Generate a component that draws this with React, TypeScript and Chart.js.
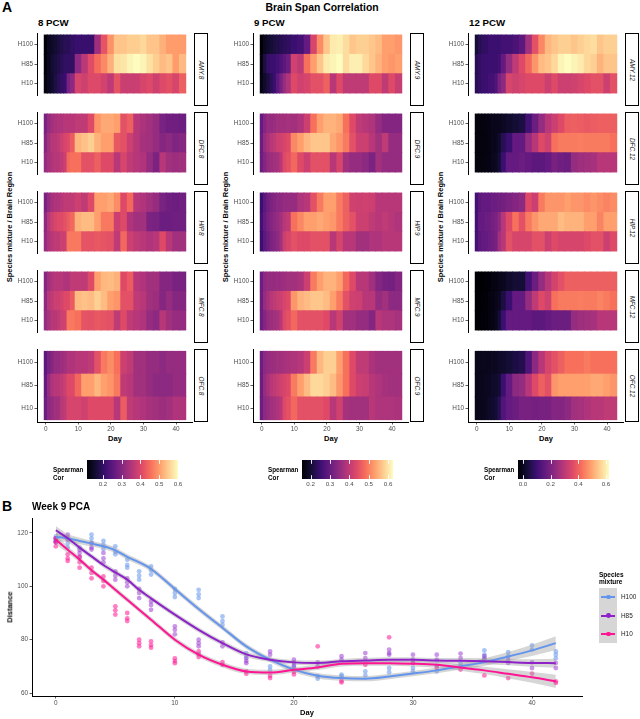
import React, { useEffect, useRef } from 'react';
import { Chart, registerables } from 'chart.js';

Chart.register(...registerables);

const FONT = '"Liberation Sans", Arial, Helvetica, sans-serif';
Chart.defaults.font.family = FONT;

// ---------- Heatmap data (Spearman correlation), rows: H100, H85, H10 ----------
const DAYS = [0, 1, 2, 3, 4, 5, 6, 7, 8, 10, 12, 14, 16, 18, 20, 22, 24, 26, 28, 30, 32, 34, 36, 38, 40, 42];
const MIXTURES = ['H100', 'H85', 'H10'];
const REGIONS = ['AMY', 'DFC', 'HIP', 'MFC', 'OFC'];
const PCW = ['8', '9', '12'];
const HEAT_X_TICKS = [0, 10, 20, 30, 40];

const AMY_8 = [
  [0.115, 0.14, 0.15, 0.16, 0.17, 0.18, 0.19, 0.19, 0.2, 0.21, 0.21, 0.21, 0.33, 0.42, 0.49, 0.54, 0.54, 0.55, 0.55, 0.56, 0.54, 0.54, 0.52, 0.5, 0.5, 0.5],
  [0.12, 0.14, 0.16, 0.17, 0.18, 0.19, 0.2, 0.2, 0.2, 0.31, 0.36, 0.41, 0.45, 0.48, 0.52, 0.57, 0.575, 0.59, 0.6, 0.59, 0.57, 0.55, 0.53, 0.54, 0.5, 0.53],
  [0.125, 0.14, 0.155, 0.175, 0.19, 0.2, 0.21, 0.285, 0.31, 0.395, 0.385, 0.405, 0.405, 0.39, 0.365, 0.42, 0.38, 0.38, 0.38, 0.395, 0.405, 0.385, 0.405, 0.415, 0.395, 0.435],
];
const DFC_8 = [
  [0.285, 0.32, 0.333, 0.343, 0.348, 0.348, 0.358, 0.358, 0.358, 0.367, 0.367, 0.406, 0.493, 0.513, 0.513, 0.503, 0.416, 0.435, 0.358, 0.343, 0.333, 0.32, 0.285, 0.275, 0.275, 0.27],
  [0.3, 0.333, 0.358, 0.358, 0.367, 0.382, 0.396, 0.406, 0.43, 0.527, 0.537, 0.552, 0.522, 0.503, 0.503, 0.425, 0.416, 0.382, 0.358, 0.338, 0.333, 0.32, 0.3, 0.309, 0.294, 0.3],
  [0.32, 0.338, 0.348, 0.358, 0.358, 0.367, 0.382, 0.445, 0.455, 0.455, 0.416, 0.416, 0.435, 0.406, 0.406, 0.358, 0.396, 0.367, 0.358, 0.348, 0.32, 0.29, 0.358, 0.333, 0.328, 0.333],
];
const HIP_8 = [
  [0.285, 0.32, 0.338, 0.348, 0.348, 0.358, 0.367, 0.367, 0.367, 0.382, 0.367, 0.406, 0.503, 0.503, 0.513, 0.484, 0.406, 0.445, 0.358, 0.348, 0.333, 0.32, 0.285, 0.275, 0.27, 0.275],
  [0.309, 0.358, 0.382, 0.396, 0.406, 0.406, 0.416, 0.43, 0.445, 0.522, 0.532, 0.532, 0.503, 0.464, 0.464, 0.382, 0.406, 0.348, 0.333, 0.333, 0.29, 0.285, 0.27, 0.27, 0.275, 0.275],
  [0.32, 0.348, 0.358, 0.367, 0.367, 0.382, 0.382, 0.464, 0.464, 0.464, 0.42, 0.42, 0.425, 0.42, 0.416, 0.367, 0.445, 0.382, 0.367, 0.358, 0.348, 0.358, 0.406, 0.358, 0.333, 0.333],
];
const MFC_8 = [
  [0.3, 0.333, 0.348, 0.358, 0.358, 0.358, 0.348, 0.348, 0.367, 0.367, 0.367, 0.406, 0.503, 0.527, 0.532, 0.522, 0.406, 0.43, 0.358, 0.348, 0.333, 0.333, 0.3, 0.3, 0.285, 0.285],
  [0.309, 0.358, 0.367, 0.382, 0.382, 0.391, 0.406, 0.406, 0.43, 0.532, 0.537, 0.532, 0.552, 0.532, 0.503, 0.493, 0.416, 0.416, 0.367, 0.358, 0.333, 0.328, 0.3, 0.32, 0.3, 0.3],
  [0.32, 0.338, 0.358, 0.358, 0.367, 0.382, 0.387, 0.464, 0.464, 0.455, 0.42, 0.416, 0.425, 0.42, 0.416, 0.367, 0.406, 0.367, 0.358, 0.348, 0.32, 0.309, 0.358, 0.333, 0.32, 0.32],
];
const OFC_8 = [
  [0.251, 0.285, 0.3, 0.32, 0.32, 0.328, 0.333, 0.348, 0.348, 0.358, 0.358, 0.367, 0.416, 0.464, 0.484, 0.455, 0.382, 0.367, 0.333, 0.333, 0.32, 0.32, 0.309, 0.32, 0.32, 0.32],
  [0.26, 0.32, 0.348, 0.358, 0.358, 0.367, 0.382, 0.406, 0.406, 0.445, 0.503, 0.503, 0.527, 0.503, 0.493, 0.464, 0.367, 0.358, 0.333, 0.333, 0.32, 0.309, 0.309, 0.309, 0.32, 0.32],
  [0.27, 0.309, 0.32, 0.333, 0.333, 0.358, 0.367, 0.396, 0.396, 0.396, 0.387, 0.406, 0.406, 0.406, 0.406, 0.358, 0.43, 0.367, 0.358, 0.348, 0.338, 0.333, 0.328, 0.333, 0.348, 0.348],
];

const AMY_9 = [
  [0.156, 0.18, 0.194, 0.203, 0.212, 0.217, 0.226, 0.231, 0.236, 0.25, 0.259, 0.297, 0.428, 0.512, 0.569, 0.606, 0.611, 0.592, 0.569, 0.578, 0.578, 0.569, 0.559, 0.531, 0.531, 0.522],
  [0.165, 0.212, 0.24, 0.25, 0.25, 0.259, 0.273, 0.287, 0.306, 0.419, 0.4, 0.484, 0.531, 0.569, 0.606, 0.616, 0.625, 0.592, 0.611, 0.611, 0.588, 0.569, 0.55, 0.531, 0.522, 0.531],
  [0.17, 0.194, 0.212, 0.231, 0.25, 0.287, 0.32, 0.353, 0.381, 0.437, 0.419, 0.428, 0.447, 0.447, 0.466, 0.39, 0.437, 0.4, 0.4, 0.4, 0.4, 0.437, 0.437, 0.4, 0.437, 0.409],
];
const DFC_9 = [
  [0.297, 0.334, 0.353, 0.353, 0.358, 0.367, 0.367, 0.367, 0.372, 0.367, 0.381, 0.414, 0.484, 0.531, 0.55, 0.55, 0.541, 0.484, 0.437, 0.4, 0.39, 0.381, 0.353, 0.334, 0.334, 0.334],
  [0.306, 0.353, 0.372, 0.39, 0.4, 0.414, 0.419, 0.428, 0.437, 0.508, 0.531, 0.555, 0.569, 0.569, 0.569, 0.541, 0.522, 0.494, 0.447, 0.414, 0.414, 0.39, 0.367, 0.4, 0.353, 0.353],
  [0.306, 0.334, 0.353, 0.362, 0.367, 0.372, 0.39, 0.437, 0.447, 0.475, 0.437, 0.414, 0.447, 0.447, 0.447, 0.39, 0.428, 0.367, 0.353, 0.353, 0.344, 0.325, 0.367, 0.353, 0.353, 0.353],
];
const HIP_9 = [
  [0.25, 0.287, 0.311, 0.325, 0.334, 0.344, 0.344, 0.353, 0.353, 0.353, 0.381, 0.39, 0.447, 0.494, 0.531, 0.531, 0.494, 0.466, 0.419, 0.414, 0.419, 0.414, 0.39, 0.39, 0.39, 0.39],
  [0.259, 0.297, 0.32, 0.334, 0.344, 0.353, 0.367, 0.39, 0.4, 0.484, 0.508, 0.531, 0.531, 0.541, 0.531, 0.522, 0.494, 0.466, 0.447, 0.414, 0.414, 0.4, 0.39, 0.4, 0.39, 0.381],
  [0.25, 0.287, 0.306, 0.325, 0.334, 0.344, 0.367, 0.414, 0.428, 0.447, 0.437, 0.437, 0.447, 0.447, 0.447, 0.39, 0.428, 0.39, 0.39, 0.367, 0.367, 0.381, 0.381, 0.39, 0.39, 0.39],
];
const MFC_9 = [
  [0.306, 0.344, 0.353, 0.353, 0.353, 0.358, 0.358, 0.362, 0.367, 0.367, 0.376, 0.414, 0.494, 0.531, 0.55, 0.55, 0.531, 0.475, 0.437, 0.39, 0.39, 0.367, 0.334, 0.32, 0.315, 0.334],
  [0.306, 0.353, 0.372, 0.39, 0.4, 0.409, 0.414, 0.428, 0.437, 0.522, 0.55, 0.559, 0.569, 0.569, 0.559, 0.531, 0.494, 0.447, 0.419, 0.414, 0.39, 0.39, 0.353, 0.367, 0.344, 0.344],
  [0.306, 0.334, 0.353, 0.362, 0.367, 0.372, 0.39, 0.437, 0.447, 0.475, 0.447, 0.447, 0.447, 0.447, 0.437, 0.39, 0.419, 0.367, 0.367, 0.353, 0.353, 0.334, 0.39, 0.381, 0.381, 0.372],
];
const OFC_9 = [
  [0.306, 0.344, 0.353, 0.358, 0.362, 0.367, 0.367, 0.372, 0.376, 0.381, 0.39, 0.414, 0.494, 0.555, 0.578, 0.578, 0.531, 0.484, 0.437, 0.4, 0.4, 0.376, 0.367, 0.367, 0.367, 0.367],
  [0.306, 0.353, 0.372, 0.39, 0.4, 0.409, 0.419, 0.428, 0.437, 0.494, 0.531, 0.559, 0.588, 0.588, 0.578, 0.559, 0.522, 0.484, 0.437, 0.414, 0.409, 0.39, 0.381, 0.372, 0.367, 0.367],
  [0.306, 0.344, 0.353, 0.367, 0.372, 0.381, 0.39, 0.437, 0.447, 0.475, 0.447, 0.447, 0.447, 0.447, 0.437, 0.39, 0.419, 0.372, 0.367, 0.367, 0.367, 0.39, 0.381, 0.381, 0.381, 0.376],
];

const AMY_12 = [
  [0.03, 0.063, 0.076, 0.082, 0.096, 0.096, 0.096, 0.096, 0.109, 0.109, 0.122, 0.148, 0.26, 0.372, 0.458, 0.523, 0.543, 0.556, 0.556, 0.543, 0.556, 0.569, 0.576, 0.543, 0.556, 0.556],
  [0.063, 0.082, 0.096, 0.096, 0.096, 0.096, 0.096, 0.109, 0.161, 0.24, 0.306, 0.359, 0.411, 0.477, 0.53, 0.543, 0.569, 0.609, 0.622, 0.609, 0.596, 0.569, 0.556, 0.517, 0.543, 0.543],
  [0.063, 0.082, 0.096, 0.096, 0.109, 0.109, 0.129, 0.194, 0.227, 0.346, 0.332, 0.346, 0.359, 0.359, 0.359, 0.326, 0.359, 0.326, 0.326, 0.332, 0.346, 0.359, 0.372, 0.372, 0.326, 0.372],
];
const DFC_12 = [
  [-0.023, -0.023, -0.023, -0.016, -0.016, -0.01, -0.003, -0.003, 0.003, 0.017, 0.03, 0.043, 0.109, 0.175, 0.24, 0.293, 0.326, 0.359, 0.392, 0.398, 0.392, 0.385, 0.392, 0.398, 0.398, 0.398],
  [-0.023, -0.023, -0.023, -0.023, -0.016, -0.01, -0.003, 0.017, 0.063, 0.096, 0.161, 0.161, 0.24, 0.293, 0.359, 0.332, 0.425, 0.438, 0.438, 0.438, 0.444, 0.438, 0.438, 0.438, 0.438, 0.425],
  [-0.023, -0.023, -0.023, -0.016, -0.016, -0.003, 0.003, 0.03, 0.096, 0.161, 0.161, 0.175, 0.161, 0.148, 0.148, 0.161, 0.194, 0.181, 0.175, 0.24, 0.254, 0.26, 0.267, 0.293, 0.293, 0.293],
];
const HIP_12 = [
  [0.109, 0.148, 0.161, 0.161, 0.161, 0.175, 0.175, 0.181, 0.188, 0.201, 0.214, 0.227, 0.359, 0.326, 0.438, 0.477, 0.477, 0.477, 0.49, 0.477, 0.477, 0.464, 0.477, 0.464, 0.451, 0.464],
  [0.109, 0.161, 0.161, 0.175, 0.175, 0.188, 0.201, 0.227, 0.293, 0.359, 0.425, 0.372, 0.438, 0.477, 0.504, 0.504, 0.504, 0.53, 0.517, 0.517, 0.517, 0.49, 0.49, 0.451, 0.49, 0.49],
  [0.109, 0.148, 0.161, 0.161, 0.175, 0.181, 0.194, 0.26, 0.293, 0.372, 0.346, 0.346, 0.346, 0.372, 0.372, 0.326, 0.359, 0.346, 0.346, 0.346, 0.346, 0.359, 0.372, 0.372, 0.326, 0.359],
];
const MFC_12 = [
  [-0.036, -0.036, -0.036, -0.03, -0.03, -0.023, -0.016, -0.01, -0.003, 0.017, 0.03, 0.03, 0.109, 0.175, 0.24, 0.293, 0.339, 0.372, 0.398, 0.398, 0.398, 0.398, 0.398, 0.398, 0.398, 0.398],
  [-0.036, -0.036, -0.03, -0.03, -0.023, -0.016, -0.01, 0.003, 0.043, 0.096, 0.161, 0.161, 0.24, 0.306, 0.359, 0.332, 0.425, 0.438, 0.438, 0.438, 0.444, 0.438, 0.438, 0.451, 0.438, 0.425],
  [-0.036, -0.036, -0.03, -0.03, -0.023, -0.016, -0.003, 0.03, 0.096, 0.161, 0.161, 0.161, 0.161, 0.148, 0.148, 0.161, 0.175, 0.175, 0.175, 0.24, 0.254, 0.26, 0.267, 0.293, 0.293, 0.293],
];
const OFC_12 = [
  [-0.01, -0.01, -0.003, -0.003, -0.003, 0.003, 0.003, 0.01, 0.017, 0.03, 0.043, 0.056, 0.129, 0.227, 0.293, 0.346, 0.372, 0.398, 0.425, 0.425, 0.425, 0.438, 0.425, 0.425, 0.425, 0.425],
  [-0.01, -0.003, -0.003, 0.003, 0.003, 0.01, 0.017, 0.03, 0.096, 0.161, 0.227, 0.24, 0.293, 0.359, 0.398, 0.372, 0.477, 0.49, 0.49, 0.49, 0.49, 0.49, 0.504, 0.504, 0.49, 0.477],
  [-0.01, -0.003, -0.003, 0.003, 0.01, 0.017, 0.03, 0.063, 0.129, 0.161, 0.175, 0.194, 0.194, 0.188, 0.194, 0.194, 0.214, 0.214, 0.227, 0.26, 0.267, 0.28, 0.293, 0.293, 0.306, 0.306],
];

const FACETS = [
  [AMY_8, DFC_8, HIP_8, MFC_8, OFC_8],
  [AMY_9, DFC_9, HIP_9, MFC_9, OFC_9],
  [AMY_12, DFC_12, HIP_12, MFC_12, OFC_12],
];
const CB_TICKS = [
  [0.2, 0.3, 0.4, 0.5, 0.6],
  [0.2, 0.3, 0.4, 0.5, 0.6],
  [0.0, 0.2, 0.4, 0.6],
];

// ---------- PCA data ----------
const PCA_X_TICKS = [0, 10, 20, 30, 40];
const PCA_Y_TICKS = [60, 80, 100, 120];
const H100_POINTS = [[0,118.7],[0,117.7],[0,117],[1,116],[1,114.5],[2,114.5],[3,119.4],[3,118],[3,116.5],[4,117],[4,115.5],[4,114],[5,115],[5,113],[5,112],[6,110],[6,108],[6,107],[7,105.6],[7,104],[7,102.5],[8,107.5],[8,106],[8,104.4],[10,99],[10,97.5],[10,96],[12,98.7],[12,97],[12,95.6],[14,88.7],[14,87],[14,85.6],[16,75],[16,73.7],[18,70],[18,68.7],[20,70.5],[20,69],[22,66.3],[22,65.4],[24,66.9],[24,66.3],[26,68.1],[26,66.6],[28,69.4],[28,67.8],[30,71.3],[30,69.4],[30,68.1],[32,70.3],[32,68.1],[34,71.3],[34,70],[36,76],[36,74.4],[36,73],[38,75.3],[38,73.8],[40,77.9],[40,76.3],[42,75.6],[42,74.4],[42,73]];
const H85_POINTS = [[0,118],[0,117],[0,116.5],[1,119.4],[1,118.2],[1,117.5],[2,113.7],[2,112.5],[2,111],[3,116],[3,114.5],[3,113.8],[4,112.5],[4,110.5],[4,109],[5,105.6],[5,104],[5,102.5],[6,103],[6,101.5],[6,100],[7,99],[7,97.5],[7,95.6],[8,94.4],[8,93],[8,91.2],[10,85],[10,83.7],[10,82],[12,80],[12,78.7],[12,77.5],[14,79],[14,77.5],[16,73],[16,72],[16,71.2],[18,75.6],[18,74.4],[20,72.5],[20,71.5],[20,70],[22,71.5],[22,70],[24,73.8],[24,72.5],[26,75],[26,73.1],[28,76.3],[28,75],[28,74.4],[30,74.4],[30,72.5],[32,74.4],[32,72.5],[34,74.8],[34,73.1],[36,73.8],[36,72.5],[38,72.5],[38,71.3],[40,71.5],[40,69.4],[42,71.3],[42,69.4]];
const H10_POINTS = [[0,118],[0,116.5],[0,115],[1,112],[1,110.5],[1,109.5],[2,111],[2,109],[2,107],[3,107],[3,105],[3,103],[4,103.7],[4,102],[4,100],[5,92.5],[5,91],[5,89.4],[6,90],[6,88],[6,87],[7,80],[7,78.7],[7,77.5],[8,79.4],[8,78],[8,77],[10,73],[10,72],[10,71.2],[12,75.6],[12,74.5],[12,73.5],[14,71.6],[14,70.6],[16,68.1],[16,67.2],[18,66.5],[18,65.6],[20,68],[20,67],[22,77.5],[24,64.6],[24,64],[26,70.6],[28,80.9],[30,71.3],[32,69.4],[34,68.8],[36,66.6],[38,65.6],[40,67.3],[42,64.4],[42,63.8]];

const FIT_DAYS = DAYS;
const H100_FIT = [118.5,118,117,116,115,113.5,111,109,106.5,99,91.5,84.5,77.5,72.5,68.8,66.5,65.6,65.4,66.2,67.3,68.5,70,71.6,73.7,76,78.7];
const H85_FIT = [121,118,114.5,111.2,108,105.2,102.5,98.7,95.5,89.4,83.7,78.7,74.5,72.5,71.5,71.3,71.9,72.2,72.5,72.5,72.2,72.1,71.9,71.6,71.3,71.2];
const H10_FIT = [117.5,113.7,110,106,102.5,98.7,95,91.2,87.5,80,74.4,70.6,68.1,67.7,68.7,69.6,71,71.2,71.2,71,70.6,69.6,68.5,67.2,65.9,64.4];
const H100_SE = [1.6,1.4,1.2,1.1,1.0,1.0,1.0,1.0,1.0,1.0,1.0,1.0,1.0,1.0,1.0,1.0,1.0,1.0,1.0,1.0,1.1,1.2,1.4,1.7,2.1,2.6];
const H85_SE = [1.6,1.3,1.1,1.0,1.0,1.0,1.0,1.0,1.0,1.0,1.0,1.0,1.0,0.9,0.9,0.9,0.9,0.9,0.9,0.9,0.9,1.0,1.1,1.2,1.4,1.7];
const H10_SE = [1.6,1.3,1.1,1.0,1.0,1.0,1.0,1.0,1.0,1.0,1.0,1.0,1.0,1.0,1.0,1.0,1.0,1.0,1.0,1.0,1.1,1.2,1.4,1.7,2.0,2.5];

// ---------- styling ----------
const MAGMA = ['#000004', '#140E36', '#3B0F70', '#641A80', '#8C2981', '#B73779', '#DE4968', '#F7705C', '#FE9F6D', '#FECF92', '#FCFDBF'];
const LABEL_COLOR = '#4D4D4D';
const TICK_COLOR = '#333333';
const COL_H100 = '#6495ED';
const COL_H85 = '#8E22C8';
const COL_H10 = '#FF1493';

const PANEL_LEFT = [37, 253, 468];
const PANEL_W = 156;
const FACET_TOP = [33, 112, 191, 270, 349];
const FACET_H = 73;
const Y_AXIS_W = 30;
const CB_LEFT = [87, 302, 518];

function hexToRgb(h: string) {
  return [parseInt(h.slice(1, 3), 16), parseInt(h.slice(3, 5), 16), parseInt(h.slice(5, 7), 16)];
}
const MAGMA_RGB = MAGMA.map(hexToRgb);
function magma(t: number) {
  const tt = Math.max(0, Math.min(1, t)) * (MAGMA.length - 1);
  const i = Math.min(MAGMA.length - 2, Math.floor(tt));
  const f = tt - i;
  const a = MAGMA_RGB[i], b = MAGMA_RGB[i + 1];
  const c = a.map((v, k) => Math.round(v + (b[k] - v) * f));
  return `rgb(${c[0]},${c[1]},${c[2]})`;
}

const TILE_EDGES = DAYS.map((d, i) => (i === 0 ? d - 0.5 : (DAYS[i - 1] + d) / 2)).concat([DAYS[DAYS.length - 1] + 1]);

function panelDomain(p: number): [number, number] {
  const all = FACETS[p].flat(2) as number[];
  return [Math.min(...all), Math.max(...all)];
}

const tickFont = { family: FONT, size: 6.4 };

function heatConfig(rows: number[][], domain: [number, number], showX: boolean) {
  const pts: any[] = [];
  const cols: string[] = [];
  rows.forEach((row, r) => {
    row.forEach((v, i) => {
      if (i >= DAYS.length) return;
      pts.push({ x: [TILE_EDGES[i], TILE_EDGES[i + 1]], y: MIXTURES.length - r });
      cols.push(magma((v - domain[0]) / (domain[1] - domain[0])));
    });
  });
  return {
    type: 'bar',
    data: {
      datasets: [{
        data: pts, backgroundColor: cols, borderWidth: 0, grouped: false,
        barPercentage: 1, categoryPercentage: 1, inflateAmount: 0.4,
      }],
    },
    options: {
      indexAxis: 'y', responsive: false, animation: false, events: [],
      layout: { padding: 0 },
      plugins: { legend: { display: false }, tooltip: { enabled: false } },
      scales: {
        x: {
          type: 'linear', min: -2.7, max: 45.2, display: showX, offset: false,
          afterBuildTicks: (s: any) => { s.ticks = HEAT_X_TICKS.map((v) => ({ value: v })); },
          afterFit: (s: any) => { s.height = 11; s.paddingLeft = 0; s.paddingRight = 0; },
          ticks: { font: tickFont, color: LABEL_COLOR, padding: 1, maxRotation: 0, autoSkip: false, callback: (v: any) => String(v) },
          grid: { display: true, drawOnChartArea: false, drawTicks: true, tickLength: 2.5, tickColor: TICK_COLOR, tickWidth: 0.8, offset: false },
          border: { display: true, color: '#000', width: 1 },
        },
        y: {
          type: 'linear', min: 0.4, max: 3.6, offset: false,
          afterBuildTicks: (s: any) => { s.ticks = [1, 2, 3].map((v) => ({ value: v })); },
          afterFit: (s: any) => { s.width = Y_AXIS_W; s.paddingTop = 0; s.paddingBottom = 0; },
          ticks: { font: tickFont, color: LABEL_COLOR, padding: 1.5, autoSkip: false, callback: (v: any) => MIXTURES[MIXTURES.length - v] },
          grid: { display: true, drawOnChartArea: false, drawTicks: true, tickLength: 2.5, tickColor: TICK_COLOR, tickWidth: 0.8, offset: false },
          border: { display: true, color: '#000', width: 1 },
        },
      },
    },
  };
}

const cbTickPlugin = {
  id: 'cbTicks',
  afterDatasetsDraw(chart: any) {
    const { ctx, chartArea: a, scales } = chart;
    const x = scales.x;
    ctx.save();
    ctx.strokeStyle = '#ffffff';
    ctx.lineWidth = 0.9;
    x.ticks.forEach((t: any) => {
      const px = Math.round(x.getPixelForValue(t.value)) + 0.5;
      ctx.beginPath();
      ctx.moveTo(px, a.top); ctx.lineTo(px, a.top + 3.8);
      ctx.moveTo(px, a.bottom - 3.8); ctx.lineTo(px, a.bottom);
      ctx.stroke();
    });
    ctx.restore();
  },
};

function colorbarConfig(domain: [number, number], ticks: number[]) {
  return {
    type: 'bar',
    data: {
      datasets: [{
        data: [{ x: [domain[0], domain[1]], y: 0 }],
        backgroundColor: (c: any) => {
          const chart = c.chart;
          if (!chart.chartArea) return '#888';
          const xs = chart.scales.x;
          const g = chart.ctx.createLinearGradient(xs.getPixelForValue(domain[0]), 0, xs.getPixelForValue(domain[1]), 0);
          MAGMA.forEach((col, i) => g.addColorStop(i / (MAGMA.length - 1), col));
          return g;
        },
        borderWidth: 0, barThickness: 19, grouped: false, inflateAmount: 0,
      }],
    },
    options: {
      indexAxis: 'y', responsive: false, animation: false, events: [],
      layout: { padding: { left: 8, right: 8, top: 0, bottom: 0 } },
      plugins: { legend: { display: false }, tooltip: { enabled: false } },
      scales: {
        x: {
          type: 'linear', min: domain[0], max: domain[1], offset: false,
          afterBuildTicks: (s: any) => { s.ticks = ticks.map((v) => ({ value: v })); },
          afterFit: (s: any) => { s.height = 10; s.paddingLeft = 0; s.paddingRight = 0; },
          ticks: { font: { family: FONT, size: 6.2 }, color: LABEL_COLOR, padding: 1.2, maxRotation: 0, autoSkip: false, callback: (v: any) => Number(v).toFixed(1) },
          grid: { display: false, drawTicks: false, offset: false },
          border: { display: false },
        },
        y: { type: 'linear', min: -0.5, max: 0.5, display: false, offset: false, grid: { offset: false } },
      },
    },
    plugins: [cbTickPlugin],
  };
}

function pcaConfig() {
  const series = [
    { fit: H10_FIT, se: H10_SE, pts: H10_POINTS, line: COL_H10, pt: 'rgba(255,20,147,0.55)' },
    { fit: H85_FIT, se: H85_SE, pts: H85_POINTS, line: COL_H85, pt: 'rgba(150,45,210,0.5)' },
    { fit: H100_FIT, se: H100_SE, pts: H100_POINTS, line: COL_H100, pt: 'rgba(100,149,237,0.55)' },
  ];
  const datasets: any[] = [];
  series.forEach((s, k) => {
    datasets.push({
      type: 'line', data: FIT_DAYS.map((d, i) => ({ x: d, y: s.fit[i] })),
      borderColor: s.line, borderWidth: 2, pointRadius: 0, cubicInterpolationMode: 'monotone', fill: false, order: k,
    });
  });
  series.forEach((s, k) => {
    datasets.push({
      type: 'line', data: FIT_DAYS.map((d, i) => ({ x: d, y: s.fit[i] + s.se[i] })),
      borderColor: 'rgba(0,0,0,0)', borderWidth: 0, pointRadius: 0, cubicInterpolationMode: 'monotone', fill: false, order: 3 + k,
    });
    datasets.push({
      type: 'line', data: FIT_DAYS.map((d, i) => ({ x: d, y: s.fit[i] - s.se[i] })),
      borderColor: 'rgba(0,0,0,0)', borderWidth: 0, pointRadius: 0, cubicInterpolationMode: 'monotone',
      fill: '-1', backgroundColor: 'rgba(153,153,153,0.4)', order: 3 + k,
    });
  });
  series.forEach((s, k) => {
    datasets.push({
      type: 'scatter', data: s.pts.map(([x, y]) => ({ x, y })),
      backgroundColor: s.pt, borderWidth: 0, pointRadius: 2.4, order: 6 + k,
    });
  });
  const axis = {
    grid: { display: true, drawOnChartArea: false, drawTicks: true, tickLength: 2.5, tickColor: TICK_COLOR, tickWidth: 0.8, offset: false },
    border: { display: true, color: '#000', width: 1 },
  };
  return {
    type: 'scatter',
    data: { datasets },
    options: {
      responsive: false, animation: false, events: [],
      layout: { padding: { top: 8, right: 8, left: 0, bottom: 0 } },
      plugins: { legend: { display: false }, tooltip: { enabled: false } },
      scales: {
        x: {
          type: 'linear', min: -2.0, max: 44.2, offset: false, ...axis,
          afterBuildTicks: (s: any) => { s.ticks = PCA_X_TICKS.map((v) => ({ value: v })); },
          afterFit: (s: any) => { s.height = 12; s.paddingLeft = 0; s.paddingRight = 0; },
          ticks: { font: tickFont, color: LABEL_COLOR, padding: 0.8, maxRotation: 0, autoSkip: false, callback: (v: any) => String(v) },
        },
        y: {
          type: 'linear', min: 58.9, max: 125.6, offset: false, ...axis,
          afterBuildTicks: (s: any) => { s.ticks = PCA_Y_TICKS.map((v) => ({ value: v })); },
          afterFit: (s: any) => { s.width = 32; s.paddingTop = 0; s.paddingBottom = 0; },
          ticks: { font: tickFont, color: LABEL_COLOR, padding: 1.5, autoSkip: false, callback: (v: any) => String(v) },
        },
      },
    },
  };
}

function ChartCanvas({ left, top, width, height, config }: { left: number; top: number; width: number; height: number; config: any }) {
  const ref = useRef<HTMLCanvasElement>(null);
  useEffect(() => {
    const chart = new Chart(ref.current as HTMLCanvasElement, config);
    return () => chart.destroy();
  }, []);
  return <canvas ref={ref} width={width} height={height} style={{ position: 'absolute', left, top, width, height }} />;
}

function T({ x, y, s, b, it, c = '#000', a = 'l', r = 0, children }: any) {
  const tx = a === 'c' ? '-50%' : a === 'r' ? '-100%' : '0';
  return (
    <div style={{
      position: 'absolute', left: x, top: y, fontSize: s, fontWeight: b ? 700 : 400,
      fontStyle: it ? 'italic' : 'normal', color: c, lineHeight: 1, whiteSpace: 'pre',
      fontFamily: FONT, transform: `translate(${tx},-50%)${r ? ` rotate(${r}deg)` : ''}`,
    }}>{children}</div>
  );
}

export default function App() {
  const items: any[] = [];
  PCW.forEach((w, p) => {
    const domain = panelDomain(p);
    const pl = PANEL_LEFT[p];
    items.push(<T key={`pcw${p}`} x={pl + 1} y={23} s={9.7} b>{`${w} PCW`}</T>);
    items.push(<T key={`yt${p}`} x={pl - 27} y={227} s={7.5} b a="c" r={-90}>Species mixture / Brain Region</T>);
    items.push(<T key={`dx${p}`} x={pl + PANEL_W / 2} y={439} s={7.5} b a="c">Day</T>);
    REGIONS.forEach((reg, f) => {
      const bottom = f === REGIONS.length - 1;
      items.push(
        <ChartCanvas key={`h${p}-${f}`} left={pl - Y_AXIS_W} top={FACET_TOP[f]} width={Y_AXIS_W + PANEL_W}
          height={FACET_H + (bottom ? 11 : 0)} config={heatConfig(FACETS[p][f], domain, bottom)} />
      );
      const sl = pl + PANEL_W + 1;
      items.push(
        <div key={`s${p}-${f}`} style={{ position: 'absolute', left: sl, top: FACET_TOP[f], width: 13.5, height: FACET_H, border: '1.1px solid #000', boxSizing: 'border-box', background: '#fff' }} />
      );
      items.push(<T key={`st${p}-${f}`} x={sl + 6.75} y={FACET_TOP[f] + FACET_H / 2} s={6.4} it c="#1A1A1A" a="c" r={90}>{`${reg}.${w}`}</T>);
    });
    items.push(
      <ChartCanvas key={`cb${p}`} left={CB_LEFT[p] - 8} top={460} width={91 + 16} height={29} config={colorbarConfig(domain, CB_TICKS[p])} />
    );
    items.push(<T key={`sp${p}`} x={CB_LEFT[p] - 34} y={470} s={6.3} b>Spearman</T>);
    items.push(<T key={`co${p}`} x={CB_LEFT[p] - 34} y={477.5} s={6.3} b>Cor</T>);
  });

  const legend = [
    { name: 'H100', col: COL_H100 },
    { name: 'H85', col: COL_H85 },
    { name: 'H10', col: COL_H10 },
  ];

  return (
    <div style={{ position: 'absolute', left: 0, top: 0, width: 640, height: 719, background: '#fff', overflow: 'hidden', fontFamily: FONT }}>
      <T x={2} y={7} s={14} b>A</T>
      <T x={322} y={8} s={10.4} b a="c">Brain Span Correlation</T>
      {items}
      <T x={2} y={506} s={14} b>B</T>
      <T x={32} y={507} s={10} b>Week 9 PCA</T>
      <ChartCanvas left={0} top={510} width={590} height={198} config={pcaConfig()} />
      <T x={9.5} y={607} s={7.5} b a="c" r={-90}>Distance</T>
      <T x={307} y={712.5} s={7.5} b a="c">Day</T>
      <T x={599} y={575} s={6.5} b>Species</T>
      <T x={599} y={582} s={6.5} b>mixture</T>
      <div style={{ position: 'absolute', left: 599, top: 588, width: 18, height: 55, background: '#D6D6D6' }} />
      {legend.map((l, k) => {
        const cy = 597 + k * 18.5;
        return (
          <React.Fragment key={l.name}>
            <div style={{ position: 'absolute', left: 601, top: cy - 1, width: 14, height: 2, background: l.col }} />
            <div style={{ position: 'absolute', left: 605.8, top: cy - 2.4, width: 4.8, height: 4.8, borderRadius: '50%', background: l.col }} />
            <T x={621} y={cy} s={6.4} c="#1A1A1A">{l.name}</T>
          </React.Fragment>
        );
      })}
    </div>
  );
}
